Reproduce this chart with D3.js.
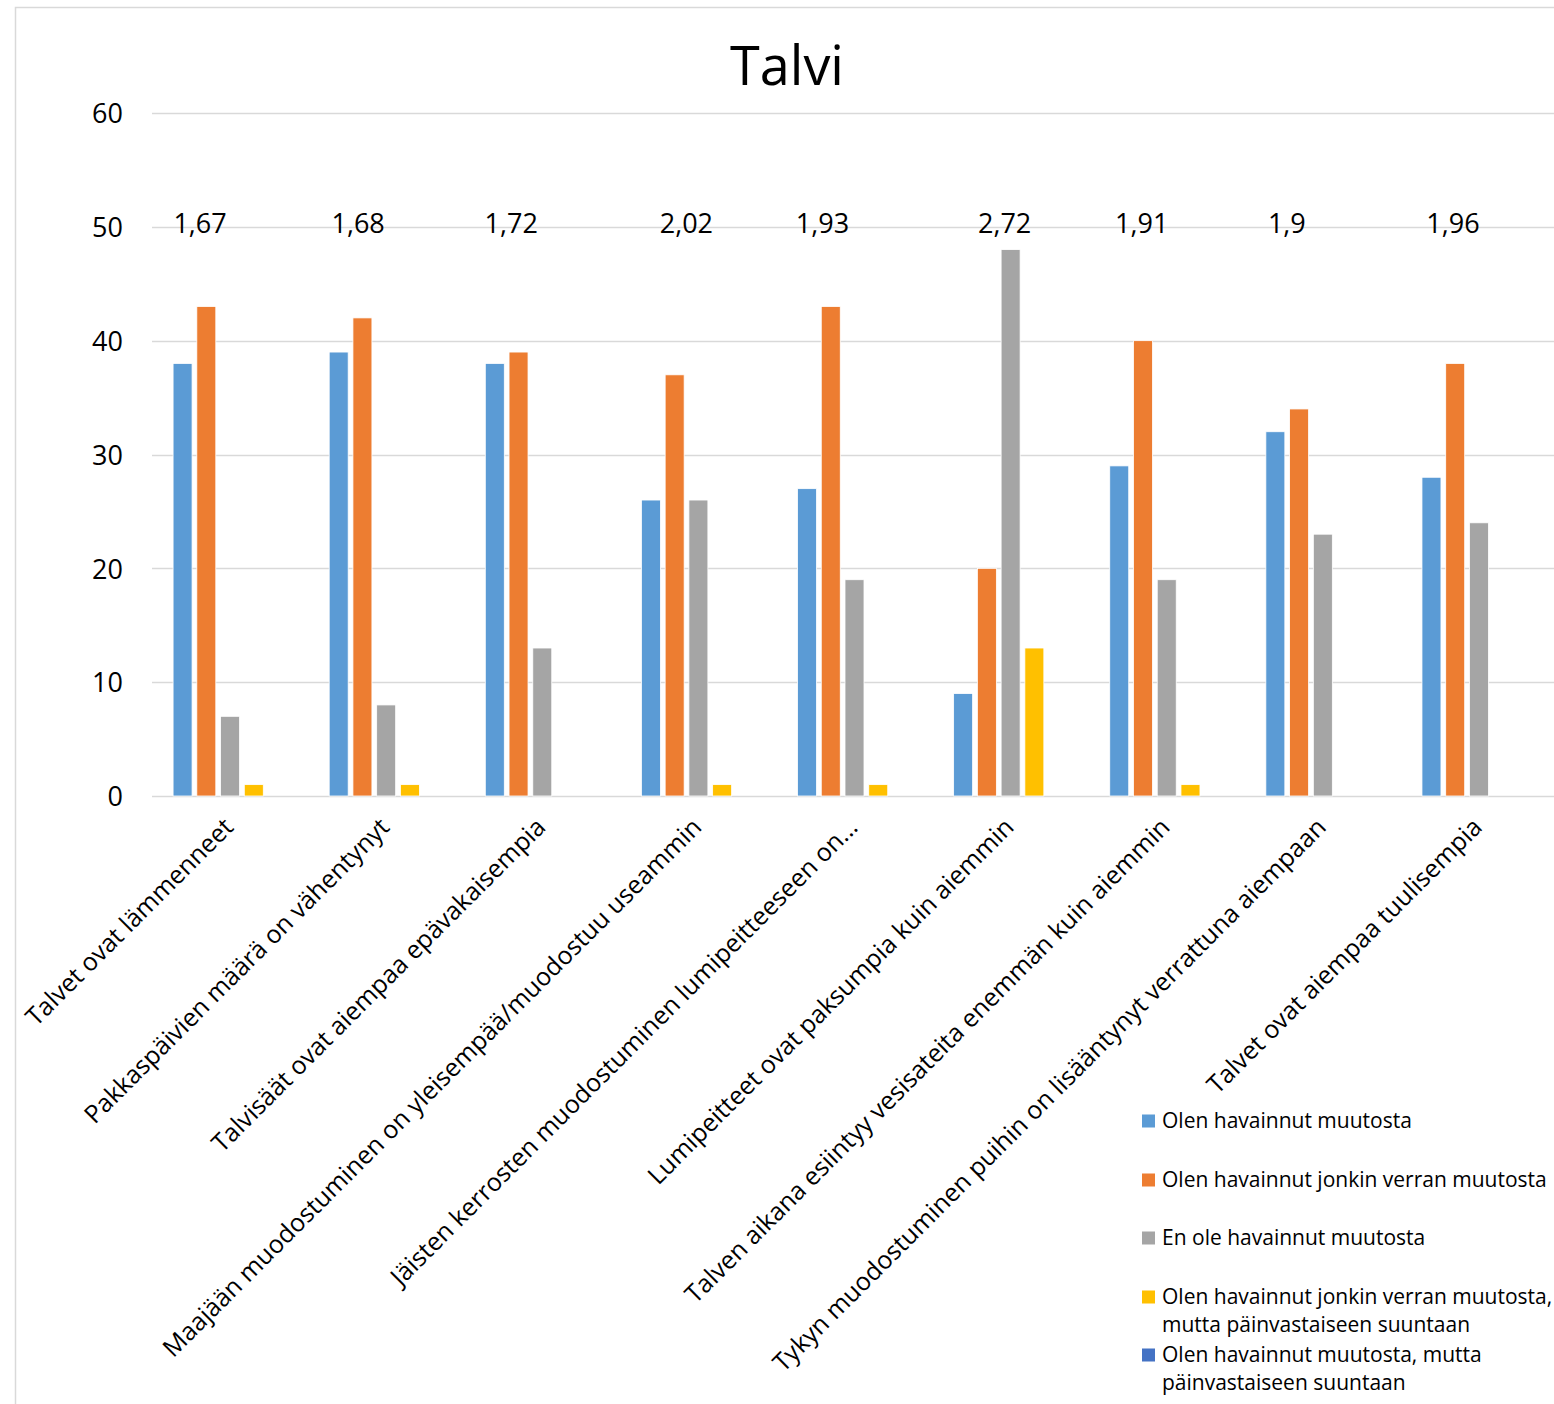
<!DOCTYPE html>
<html>
<head>
<meta charset="utf-8">
<script src="https://cdn.jsdelivr.net/npm/d3@7"></script>
<style>
  html, body { margin: 0; padding: 0; background: #fff; }
  svg { display: block; font-family: "Open Sans", "Noto Sans", sans-serif; }
</style>
</head>
<body>
<svg id="chart" width="1554" height="1404"></svg>
<script>
const categories = [
  "Talvet ovat lämmenneet",
  "Pakkaspäivien määrä on vähentynyt",
  "Talvisäät ovat aiempaa epävakaisempia",
  "Maajään muodostuminen on yleisempää/muodostuu useammin",
  "Jäisten kerrosten muodostuminen lumipeitteeseen on...",
  "Lumipeitteet ovat paksumpia kuin aiemmin",
  "Talven aikana esiintyy vesisateita enemmän kuin aiemmin",
  "Tykyn muodostuminen puihin on lisääntynyt verrattuna aiempaan",
  "Talvet ovat aiempaa tuulisempia"
];
const seriesNames = [
  "Olen havainnut muutosta",
  "Olen havainnut jonkin verran muutosta",
  "En ole havainnut muutosta",
  "Olen havainnut jonkin verran muutosta, mutta päinvastaiseen suuntaan",
  "Olen havainnut muutosta, mutta päinvastaiseen suuntaan"
];
const observedChange         = [38, 39, 38, 26, 27, 9, 29, 32, 28];
const somewhatChange         = [43, 42, 39, 37, 43, 20, 40, 34, 38];
const noChange               = [7, 8, 13, 26, 19, 48, 19, 23, 24];
const somewhatOppositeChange = [1, 1, 0, 1, 1, 13, 1, 0, 0];
const oppositeChange         = [0, 0, 0, 0, 0, 0, 0, 0, 0];
const averageLabels = ["1,67", "1,68", "1,72", "2,02", "1,93", "2,72", "1,91", "1,9", "1,96"];
const yTicks = [0, 10, 20, 30, 40, 50, 60];
const title = "Talvi";

// layout (not data)
const avgLabelNudge = [-30, -28, -31, -12, -32, -6, -25, -36, -26];
const colors = ["#5B9BD5", "#ED7D31", "#A5A5A5", "#FFC000", "#4472C4"];

const seriesValues = [observedChange, somewhatChange, noChange, somewhatOppositeChange, oppositeChange];

const svg = d3.select("#chart");

// chart border
svg.append("rect")
  .attr("x", 15.5).attr("y", 7.5)
  .attr("width", 1600).attr("height", 1500)
  .attr("fill", "none").attr("stroke", "#d9d9d9").attr("stroke-width", 1.5);

const plotLeft = 152, plotRight = 1557, plotTop = 113, plotBottom = 796;

const y = d3.scaleLinear().domain([0, 60]).range([plotBottom, plotTop]);
const x0 = d3.scaleBand().domain(categories).range([plotLeft, plotRight])
  .paddingInner(0.27).paddingOuter(0.135);
const x1 = d3.scaleBand().domain(d3.range(seriesNames.length)).range([0, x0.bandwidth()])
  .paddingInner(0.2).paddingOuter(0);

// gridlines
svg.append("g").selectAll("line").data(yTicks).join("line")
  .attr("x1", plotLeft).attr("x2", plotRight)
  .attr("y1", d => Math.round(y(d)) + 0.5).attr("y2", d => Math.round(y(d)) + 0.5)
  .attr("stroke", "#d9d9d9").attr("stroke-width", 1.3);

// y axis labels
const yAxis = d3.axisLeft(y).tickValues(yTicks).tickSize(0).tickPadding(0);
const yg = svg.append("g").attr("transform", `translate(123,0)`).call(yAxis);
yg.select(".domain").remove();
yg.selectAll("text").attr("font-size", 27).attr("fill", "#000")
  .attr("font-family", '"Open Sans", sans-serif').attr("dy", "0.36em");

// bars
const groups = svg.append("g").selectAll("g").data(categories).join("g")
  .attr("transform", d => `translate(${x0(d)},0)`);
groups.selectAll("rect")
  .data((d, i) => seriesValues.map((s, k) => ({ k, v: s[i] })).filter(e => e.v > 0))
  .join("rect")
  .attr("x", d => x1(d.k))
  .attr("width", x1.bandwidth())
  .attr("y", d => y(d.v))
  .attr("height", d => y(0) - y(d.v))
  .attr("fill", d => colors[d.k])
  .attr("stroke", "#fff").attr("stroke-width", 0.8);

// average labels
svg.append("g").selectAll("text").data(categories).join("text")
  .attr("x", (d, i) => x0(d) + x0.bandwidth() / 2 + avgLabelNudge[i])
  .attr("y", y(50) + 6)
  .attr("text-anchor", "middle")
  .attr("font-size", 27)
  .attr("fill", "#000")
  .text((d, i) => averageLabels[i]);

// category labels
const xAxis = d3.axisBottom(x0).tickSize(0).tickPadding(0);
const xg = svg.append("g").attr("transform", `translate(0,${plotBottom})`).call(xAxis);
xg.select(".domain").remove();
xg.selectAll("text")
  .attr("font-size", 25).attr("fill", "#000")
  .attr("font-family", '"Open Sans", sans-serif')
  .attr("text-anchor", "end")
  .attr("transform", "translate(-8,20) rotate(-45)")
  .attr("dy", "0.72em").attr("dx", 0).attr("y", 0);

// title
svg.append("text").attr("x", 787).attr("y", 85)
  .attr("text-anchor", "middle").attr("font-size", 54).attr("fill", "#000")
  .text(title);

// legend
const legend = svg.append("g").attr("transform", "translate(1142,0)");
const legendRowY = [1121, 1180, 1238, 1297, 1355];
seriesNames.forEach((name, i) => {
  const g = legend.append("g").attr("transform", `translate(0,${legendRowY[i]})`);
  g.append("rect").attr("x", 0).attr("y", -6.5).attr("width", 13).attr("height", 13)
    .attr("fill", colors[i]);
  const t = g.append("text").attr("x", 20).attr("y", 0)
    .attr("font-size", 21).attr("fill", "#000");
  const words = name.split(" ");
  let line = [];
  let tspan = t.append("tspan").attr("x", 20).attr("dy", "0.35em");
  words.forEach(w => {
    line.push(w);
    tspan.text(line.join(" "));
    if (tspan.node().getComputedTextLength() > 415 && line.length > 1) {
      line.pop();
      tspan.text(line.join(" "));
      line = [w];
      tspan = t.append("tspan").attr("x", 20).attr("dy", "1.3em").text(w);
    }
  });
});
</script>
</body>
</html>
